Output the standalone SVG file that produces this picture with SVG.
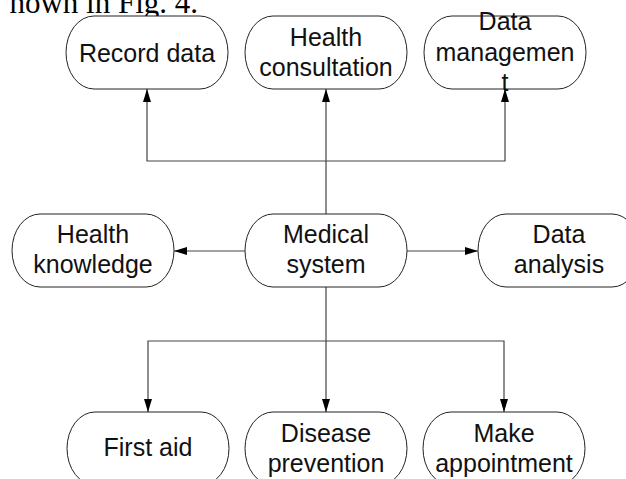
<svg xmlns="http://www.w3.org/2000/svg" width="626" height="479" viewBox="0 0 626 479">
<defs>
<marker id="arr" markerUnits="userSpaceOnUse" markerWidth="14" markerHeight="10" refX="13" refY="4" orient="auto">
<path d="M0,0 L13,4 L0,8 Z" fill="#000"/>
</marker>
<style>
.n{fill:#fff;stroke:#222;stroke-width:1}
.t{font-family:"Liberation Sans",Arial,sans-serif;font-size:25px;fill:#111;text-anchor:middle}
.c{fill:none;stroke:#444;stroke-width:1.2}
.bg{font-family:"Liberation Serif","Times New Roman",serif;font-size:31px;fill:#000}
</style>
</defs>
<rect width="626" height="479" fill="#fff"/>
<text class="bg" x="198" y="13" text-anchor="end">hown in Fig. 4.</text>
<g id="connectors">
<path class="c" d="M326,214 V89" marker-end="url(#arr)"/>
<path class="c" d="M326,161 H147 V89" marker-end="url(#arr)"/>
<path class="c" d="M326,161 H505 V89" marker-end="url(#arr)"/>
<path class="c" d="M245,251 H174" marker-end="url(#arr)"/>
<path class="c" d="M407,251 H478" marker-end="url(#arr)"/>
<path class="c" d="M326,287 V412" marker-end="url(#arr)"/>
<path class="c" d="M326,341 H148 V412" marker-end="url(#arr)"/>
<path class="c" d="M326,341 H504 V412" marker-end="url(#arr)"/>
</g>
<g id="record-data">
<rect class="n" x="66" y="16" width="162" height="73" rx="28" ry="36.5"/>
<text class="t" x="147" y="62">Record data</text>
</g>
<g id="health-consultation">
<rect class="n" x="245" y="16" width="162" height="73" rx="28" ry="36.5"/>
<text class="t" x="326" y="46">Health</text>
<text class="t" x="326" y="76">consultation</text>
</g>
<g id="data-management">
<rect class="n" x="424" y="16" width="162" height="73" rx="28" ry="36.5"/>
<text class="t" x="505" y="30">Data</text>
<text class="t" x="505" y="61">managemen</text>
<text class="t" x="505" y="91">t</text>
</g>
<g id="health-knowledge">
<rect class="n" x="12" y="214" width="162" height="73" rx="28" ry="36.5"/>
<text class="t" x="93" y="243">Health</text>
<text class="t" x="93" y="273">knowledge</text>
</g>
<g id="medical-system">
<rect class="n" x="245" y="214" width="162" height="73" rx="28" ry="36.5"/>
<text class="t" x="326" y="243">Medical</text>
<text class="t" x="326" y="273">system</text>
</g>
<g id="data-analysis">
<rect class="n" x="478" y="214" width="162" height="73" rx="28" ry="36.5"/>
<text class="t" x="559" y="243">Data</text>
<text class="t" x="559" y="273">analysis</text>
</g>
<g id="first-aid">
<rect class="n" x="67" y="412" width="162" height="73" rx="28" ry="36.5"/>
<text class="t" x="148" y="456">First aid</text>
</g>
<g id="disease-prevention">
<rect class="n" x="245" y="412" width="162" height="73" rx="28" ry="36.5"/>
<text class="t" x="326" y="442">Disease</text>
<text class="t" x="326" y="472">prevention</text>
</g>
<g id="make-appointment">
<rect class="n" x="423" y="412" width="162" height="73" rx="28" ry="36.5"/>
<text class="t" x="504" y="442">Make</text>
<text class="t" x="504" y="472">appointment</text>
</g>
</svg>
